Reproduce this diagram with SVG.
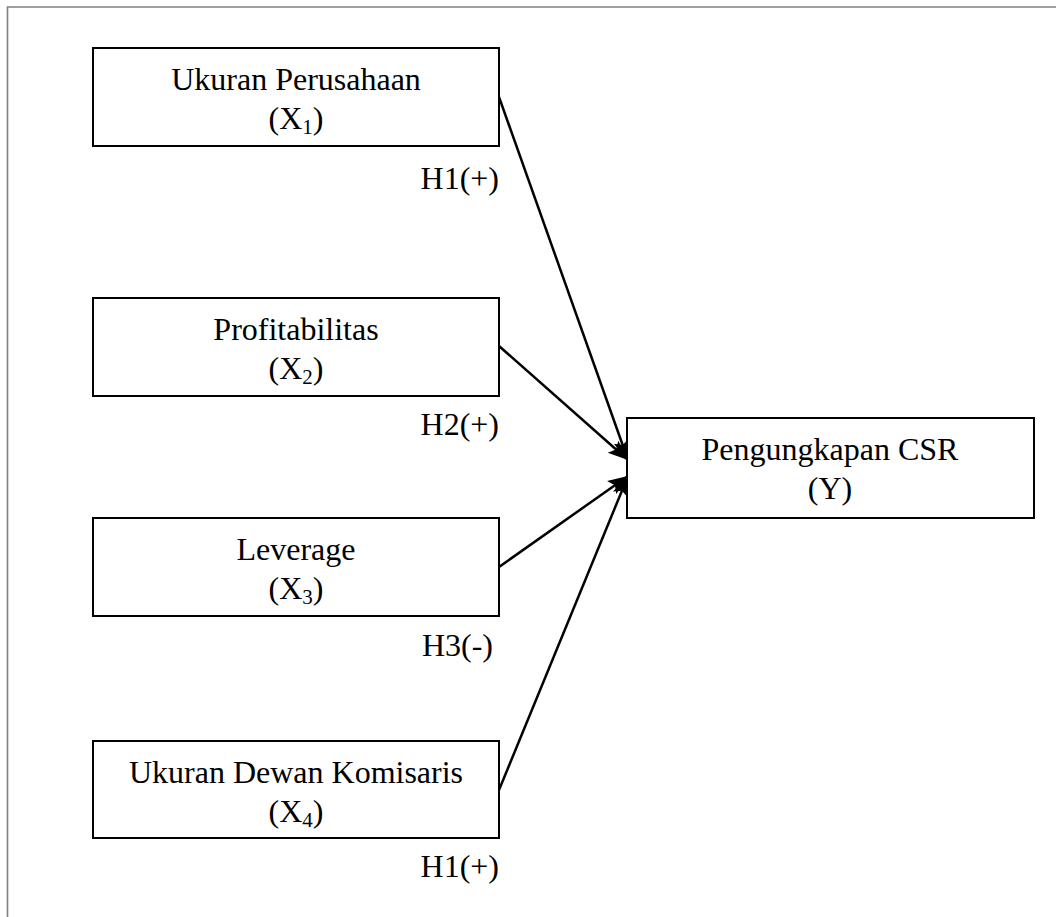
<svg xmlns="http://www.w3.org/2000/svg" width="1056" height="917" viewBox="0 0 1056 917">
<style>
.box{fill:#fff;stroke:#000;stroke-width:2}
.t{font-family:"Liberation Serif","Times New Roman",serif;font-size:32px;fill:#000;text-anchor:middle}
.h{font-family:"Liberation Serif","Times New Roman",serif;font-size:32px;fill:#000;text-anchor:end}
.sub{font-size:21px}
.edge{stroke:#000;stroke-width:2.5;fill:none}
</style>
<defs>
<marker id="ah" markerUnits="userSpaceOnUse" markerWidth="22" markerHeight="18" refX="20" refY="9" orient="auto">
<path d="M0,1 L20,9 L0,17 L4,9 z" fill="#000"/>
</marker>
</defs>
<rect width="1056" height="917" fill="#fff"/>
<g id="frame" stroke="#808080" stroke-width="1.6" fill="none">
<path d="M7.5,917 L7.5,7 L1056,7"/>
</g>
<g id="connectors">
<line class="edge" x1="499" y1="97" x2="628" y2="460" marker-end="url(#ah)"/>
<line class="edge" x1="499" y1="346" x2="628" y2="460" marker-end="url(#ah)"/>
<line class="edge" x1="499" y1="567" x2="628" y2="476" marker-end="url(#ah)"/>
<line class="edge" x1="499" y1="790" x2="628" y2="476" marker-end="url(#ah)"/>
</g>
<g id="x1">
<rect class="box" x="93" y="48" width="406" height="98"/>
<text class="t" x="296" y="90">Ukuran Perusahaan</text>
<text class="t" x="296" y="129">(X<tspan class="sub" dy="5">1</tspan><tspan dy="-5">)</tspan></text>
<text class="h" x="499" y="189">H1(+)</text>
</g>
<g id="x2">
<rect class="box" x="93" y="298" width="406" height="98"/>
<text class="t" x="296" y="340">Profitabilitas</text>
<text class="t" x="296" y="379">(X<tspan class="sub" dy="5">2</tspan><tspan dy="-5">)</tspan></text>
<text class="h" x="499" y="435">H2(+)</text>
</g>
<g id="x3">
<rect class="box" x="93" y="518" width="406" height="98"/>
<text class="t" x="296" y="560">Leverage</text>
<text class="t" x="296" y="599">(X<tspan class="sub" dy="5">3</tspan><tspan dy="-5">)</tspan></text>
<text class="h" x="493" y="656">H3(-)</text>
</g>
<g id="x4">
<rect class="box" x="93" y="741" width="406" height="97"/>
<text class="t" x="296" y="783">Ukuran Dewan Komisaris</text>
<text class="t" x="296" y="822">(X<tspan class="sub" dy="5">4</tspan><tspan dy="-5">)</tspan></text>
<text class="h" x="499" y="877">H1(+)</text>
</g>
<g id="y">
<rect class="box" x="627" y="418" width="407" height="100"/>
<text class="t" x="830" y="460">Pengungkapan CSR</text>
<text class="t" x="830" y="499">(Y)</text>
</g>
</svg>
